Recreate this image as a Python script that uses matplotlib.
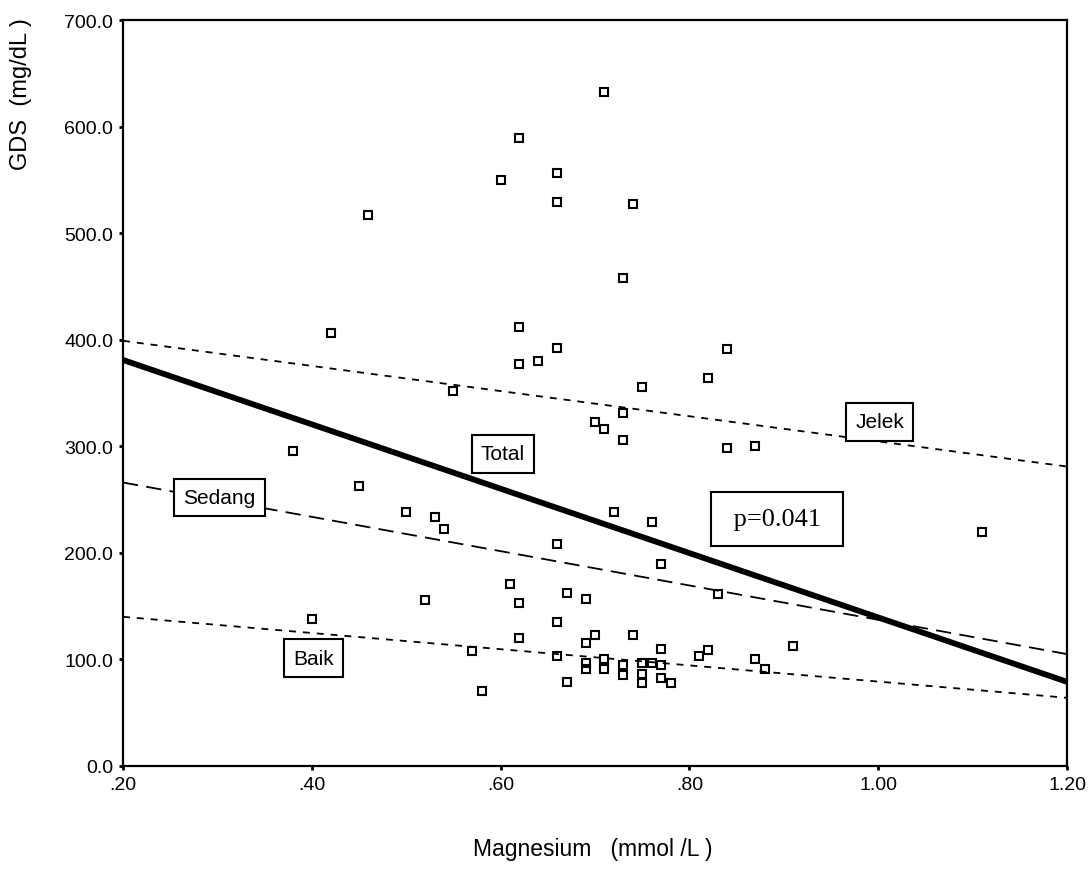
import matplotlib
matplotlib.use("Agg")
import matplotlib.pyplot as plt
from matplotlib.ticker import FixedLocator

plt.rcParams['font.family'] = ['Liberation Sans', 'DejaVu Sans']
plt.rcParams['lines.scale_dashes'] = False

# ---- data ----
mg = [0.38, 0.40, 0.42, 0.45, 0.46, 0.50, 0.53, 0.54, 0.52, 0.55,
      0.57, 0.58, 0.60, 0.61, 0.62, 0.62, 0.62, 0.62, 0.62, 0.64,
      0.66, 0.66, 0.66, 0.66, 0.66, 0.66, 0.67, 0.67, 0.69, 0.69,
      0.69, 0.69, 0.70, 0.70, 0.71, 0.71, 0.71, 0.71, 0.72, 0.73,
      0.73, 0.73, 0.73, 0.73, 0.74, 0.74, 0.75, 0.75, 0.75, 0.75,
      0.76, 0.76, 0.77, 0.77, 0.77, 0.77, 0.78, 0.81, 0.82, 0.82,
      0.83, 0.84, 0.84, 0.87, 0.87, 0.88, 0.91, 1.11]
gds = [296, 138, 406, 263, 517, 238, 234, 222, 156, 352,
       108, 70, 550, 171, 589, 412, 377, 153, 120, 380,
       556, 529, 392, 208, 135, 103, 162, 79, 157, 115,
       97, 91, 323, 123, 632, 316, 100, 91, 238, 458,
       331, 306, 95, 85, 527, 123, 356, 97, 86, 78,
       229, 97, 190, 110, 95, 83, 78, 103, 364, 109,
       161, 391, 298, 300, 100, 91, 113, 220]

fit_x = [0.20, 1.20]
fit_total = [381, 79]
fit_jelek = [399, 281]
fit_sedang = [266, 105]
fit_baik = [140, 64]

xticks = [0.20, 0.40, 0.60, 0.80, 1.00, 1.20]
xticklabels = [".20", ".40", ".60", ".80", "1.00", "1.20"]
yticks = [0, 100, 200, 300, 400, 500, 600, 700]
yticklabels = ["0.0", "100.0", "200.0", "300.0", "400.0", "500.0", "600.0", "700.0"]

# ---- figure ----
W, H = 1092, 879
fig = plt.figure(figsize=(W / 100, H / 100), dpi=100)
ax = fig.add_axes([123 / W, 1 - 767 / H, (1067 - 123) / W, (767 - 21) / H])

ax.plot(fit_x, fit_total, color='black', lw=4.2, solid_capstyle='butt', zorder=3)
ax.plot(fit_x, fit_jelek, color='black', lw=1.3, dashes=(5, 5), zorder=2)
ax.plot(fit_x, fit_sedang, color='black', lw=1.3, dashes=(11, 6), zorder=2)
ax.plot(fit_x, fit_baik, color='black', lw=1.3, dashes=(5, 5), zorder=2)

ax.plot(mg, gds, linestyle='none', marker='s', markersize=6,
        markerfacecolor='none', markeredgecolor='black', markeredgewidth=1.5,
        zorder=4)

box = dict(boxstyle='square,pad=0.45', fc='white', ec='black', lw=1.5)
ax.text(0.6025, 293, "Total", fontsize=15, ha='center', va='center', bbox=box, zorder=6)
ax.text(0.302, 252, "Sedang", fontsize=15, ha='center', va='center', bbox=box, zorder=6)
ax.text(0.402, 101, "Baik", fontsize=15, ha='center', va='center', bbox=box, zorder=6)
ax.text(1.0015, 323, "Jelek", fontsize=15, ha='center', va='center', bbox=box, zorder=6)
ax.text(0.893, 232, " p=0.041 ", fontsize=19, family=['Liberation Serif', 'DejaVu Serif'],
        ha='center', va='center',
        bbox=dict(boxstyle='square,pad=0.6', fc='white', ec='black', lw=1.5), zorder=6)

ax.set_xlim(0.20, 1.20)
ax.set_ylim(0, 700)
ax.xaxis.set_major_locator(FixedLocator(xticks))
ax.set_xticklabels(xticklabels)
ax.yaxis.set_major_locator(FixedLocator(yticks))
ax.set_yticklabels(yticklabels)
ax.tick_params(axis='both', direction='out', length=3, width=2, labelsize=14, pad=4)

for s in ax.spines.values():
    s.set_linewidth(1.6)

ax.set_xlabel("Magnesium   (mmol /L )", fontsize=16.5)
ax.xaxis.set_label_coords(0.498, -0.095)
fig.text(21 / W, 1 - 94 / H, "GDS  (mg/dL )", fontsize=17, rotation=90,
         ha='center', va='center')

fig.savefig("out.png", dpi=100)
